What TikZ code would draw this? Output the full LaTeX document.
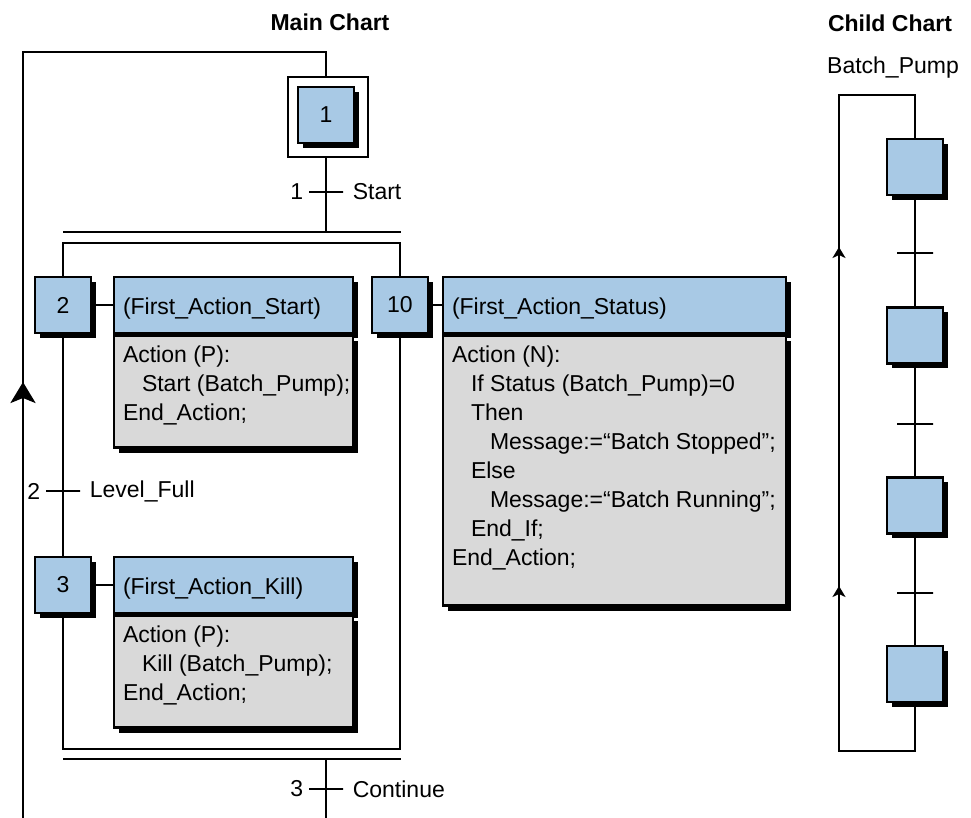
\documentclass[tikz,border=0pt]{standalone}
\usepackage{fontspec}
\setmainfont{Liberation Sans}
\usepackage{xcolor}
\usetikzlibrary{arrows.meta,shadows,positioning}

\definecolor{stepblue}{RGB}{168,201,229}
\definecolor{bodygray}{RGB}{217,217,217}
\newcommand{\chartfont}{\fontsize{11.5}{14.5}\selectfont}
\newcommand{\ind}{\hspace*{9.5pt}}

\tikzset{
  blackshadow/.style={drop shadow={shadow xshift=2.5pt, shadow yshift=-2.5pt, fill=black, opacity=1}},
  stepbox/.style={draw, fill=stepblue, minimum size=28pt, inner sep=0pt, blackshadow},
  initbox/.style={draw, fill=white, minimum size=40pt, inner sep=0pt},
  acthead/.style={draw, fill=stepblue, minimum height=28pt, inner xsep=4.5pt, inner ysep=0pt,
    text height=10pt, text depth=0pt, align=left, blackshadow},
  actbody/.style={draw, fill=bodygray, inner sep=0pt, blackshadow},
  acttext/.style={anchor=north west, inner sep=0pt, align=left},
  trans/.style={draw, minimum width=17pt, minimum height=0pt, inner sep=0pt},
  upmain/.style={-{Stealth[length=10.5pt, width=12.5pt, inset=2.5pt]}},
  upchild/.style={-{Stealth[length=5.5pt, width=6.5pt, inset=1.5pt]}}
}

\begin{document}
\begin{tikzpicture}[x=0.5pt, y=-0.5pt, line width=1.4pt, font=\chartfont]
\useasboundingbox (0,0) rectangle (971,818);

%--- Main chart ---
\node[font=\chartfont\bfseries, anchor=base] (mainttl) at (330,31) {Main Chart};

% Initial step
\node[initbox] (s1box) at (328,117) {};
\node[stepbox] (s1) at (326,115) {1};

% Steps
\node[stepbox] (s2) at (63,305) {2};
\node[stepbox] (s3) at (63,585) {3};
\node[stepbox] (s10) at (400,305) {10};

% Action blocks
\node[acthead, text width=110.5pt] (a2h) at (233.5,305) {(First\_Action\_Start)};
\node[actbody, minimum width=119.5pt, minimum height=56pt, below=0pt of a2h] (a2b) {};
\node[acttext] (a2t) at ([xshift=4.5pt, yshift=-5pt]a2b.north west)
  {Action (P):\\ \ind Start (Batch\_Pump);\\ End\_Action;};

\node[acthead, text width=110.5pt] (a3h) at (233.5,585) {(First\_Action\_Kill)};
\node[actbody, minimum width=119.5pt, minimum height=56pt, below=0pt of a3h] (a3b) {};
\node[acttext] (a3t) at ([xshift=4.5pt, yshift=-5pt]a3b.north west)
  {Action (P):\\ \ind Kill (Batch\_Pump);\\ End\_Action;};

\node[acthead, text width=162.5pt] (a10h) at (614.5,305) {(First\_Action\_Status)};
\node[actbody, minimum width=171.5pt, minimum height=135pt, below=0pt of a10h] (a10b) {};
\node[acttext] (a10t) at ([xshift=4.5pt, yshift=-5pt]a10b.north west)
  {Action (N):\\
   \ind If Status (Batch\_Pump)=0\\
   \ind Then\\
   \ind\ind Message:=“Batch Stopped”;\\
   \ind Else\\
   \ind\ind Message:=“Batch Running”;\\
   \ind End\_If;\\
   End\_Action;};

\draw (s2) -- (a2h);
\draw (s3) -- (a3h);
\draw (s10) -- (a10h);

% Transitions
\node[trans] (t1) at (326,192) {};
\node[inner sep=0pt, left=1.5pt of t1] (t1num) {1};
\node[inner sep=0pt, right=3.5pt of t1] (t1cnd) {Start};

\node[trans] (t2) at (63,491) {};
\node[inner sep=0pt, left=1.5pt of t2] (t2num) {2};
\node[inner sep=0pt, right=3.5pt of t2] (t2cnd) {Level\_Full};

\node[trans] (t3) at (326,789) {};
\node[inner sep=0pt, left=1.5pt of t3] (t3num) {3};
\node[inner sep=0pt, right=3.5pt of t3] (t3cnd) {Continue};

% Bars of the parallel branches
\coordinate (divtop) at (63,232);
\coordinate (divin) at (63,243);
\coordinate (joinin) at (63,749);
\coordinate (joinbot) at (63,759);
\coordinate (loopend) at (23,818);
\coordinate (contend) at (326,818);

\draw (divtop) -- ++(338,0);
\draw (joinbot) -- ++(338,0);

% Links
\draw (s1 |- s1box.south) -- (s1 |- divtop);
\draw (s2.north) -- (s2 |- divin) -- (s10 |- divin) -- (s10.north);
\draw (s2) -- (s3);
\draw (s3.south) -- (s3 |- joinin) -- (s10 |- joinin) -- (s10.south);
\draw (s1 |- joinbot) -- (contend);

% Return loop
\draw (loopend) -- (23,52) -| (s1 |- s1box.north);
\draw[upmain] (23,420) -- (23,382);

%--- Child chart ---
\node[font=\chartfont\bfseries, anchor=base] (childttl) at (890,32) {Child Chart};
\node[anchor=base] (childname) at (893,74) {Batch\_Pump};

\foreach \i/\y in {1/167, 2/335.5, 3/505.5, 4/674}
  \node[stepbox] (c\i) at (915,\y) {};
\foreach \i/\y in {1/253, 2/424, 3/593}
  \node[trans, minimum width=18pt] (ct\i) at (915,\y) {};

\draw (c1) -- (c2) -- (c3) -- (c4);
\draw (c4.south) |- (839,751) -- (839,95) -| (c1.north);
\draw[upchild] (839,600) -- (839,586);
\draw[upchild] (839,260) -- (839,247);
\end{tikzpicture}
\end{document}
